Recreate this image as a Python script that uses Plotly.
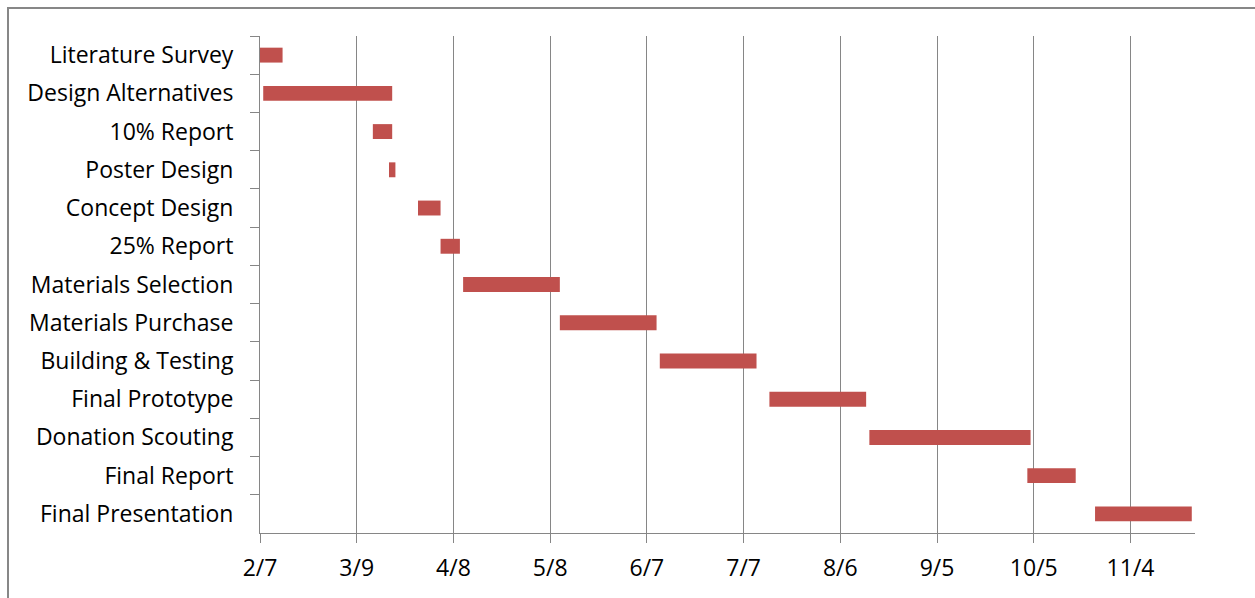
import pandas as pd
import plotly.graph_objects as go

# Project schedule
tasks = [
    "Literature Survey", "Design Alternatives", "10% Report", "Poster Design",
    "Concept Design", "25% Report", "Materials Selection", "Materials Purchase",
    "Building & Testing", "Final Prototype", "Donation Scouting", "Final Report",
    "Final Presentation",
]
start_dates = [
    "2011-02-07", "2011-02-08", "2011-03-14", "2011-03-19", "2011-03-28",
    "2011-04-04", "2011-04-11", "2011-05-11", "2011-06-11", "2011-07-15",
    "2011-08-15", "2011-10-03", "2011-10-24",
]
end_dates = [
    "2011-02-14", "2011-03-20", "2011-03-20", "2011-03-21", "2011-04-04",
    "2011-04-10", "2011-05-11", "2011-06-10", "2011-07-11", "2011-08-14",
    "2011-10-04", "2011-10-18", "2011-11-23",
]
axis_start = "2011-02-07"
axis_end = "2011-11-24"
tick_step_days = 30

starts = pd.to_datetime(start_dates)
ends = pd.to_datetime(end_dates)
durations_ms = [(e - s).total_seconds() * 1000 for s, e in zip(starts, ends)]

GRAY = "#868686"
BAR = "#C0504D"
FONT = "'Open Sans', Lato, sans-serif"

fig = go.Figure()
fig.add_trace(go.Bar(
    y=tasks,
    x=durations_ms,
    base=[s.strftime("%Y-%m-%d") for s in starts],
    orientation="h",
    marker=dict(color=BAR, line=dict(width=0)),
    width=0.39,
    showlegend=False,
))

fig.update_layout(
    width=1255, height=598,
    margin=dict(l=260, r=60, t=36, b=65),
    paper_bgcolor="white", plot_bgcolor="white",
    font=dict(family=FONT, color="black", size=23),
)
fig.update_xaxes(
    type="date",
    range=[axis_start, axis_end],
    tick0=axis_start,
    dtick=tick_step_days * 86400000,
    tickformat="%-m/%-d",
    showgrid=True, gridcolor=GRAY, gridwidth=1,
    showline=True, linecolor=GRAY, linewidth=1,
    ticks="outside", ticklen=9, tickcolor=GRAY, tickwidth=1,
    tickfont=dict(size=23),
    ticklabelstandoff=5,
    zeroline=False,
)
fig.update_yaxes(
    type="category",
    categoryorder="array", categoryarray=tasks,
    autorange="reversed",
    showgrid=False,
    showline=True, linecolor=GRAY, linewidth=1,
    ticks="outside", ticklen=9, tickcolor=GRAY, tickwidth=1,
    tickson="boundaries",
    tickfont=dict(size=23),
    ticklabelstandoff=21,
    zeroline=False,
)

# Chart frame
fig.add_shape(
    type="rect", xref="paper", yref="paper",
    x0=(8 - 260) / 935, x1=(1262 - 260) / 935,
    y0=(533 - 605) / 497, y1=(533 - 8) / 497,
    line=dict(color="#878787", width=2), fillcolor="rgba(0,0,0,0)",
    layer="above",
)

fig.write_html("out.html")
